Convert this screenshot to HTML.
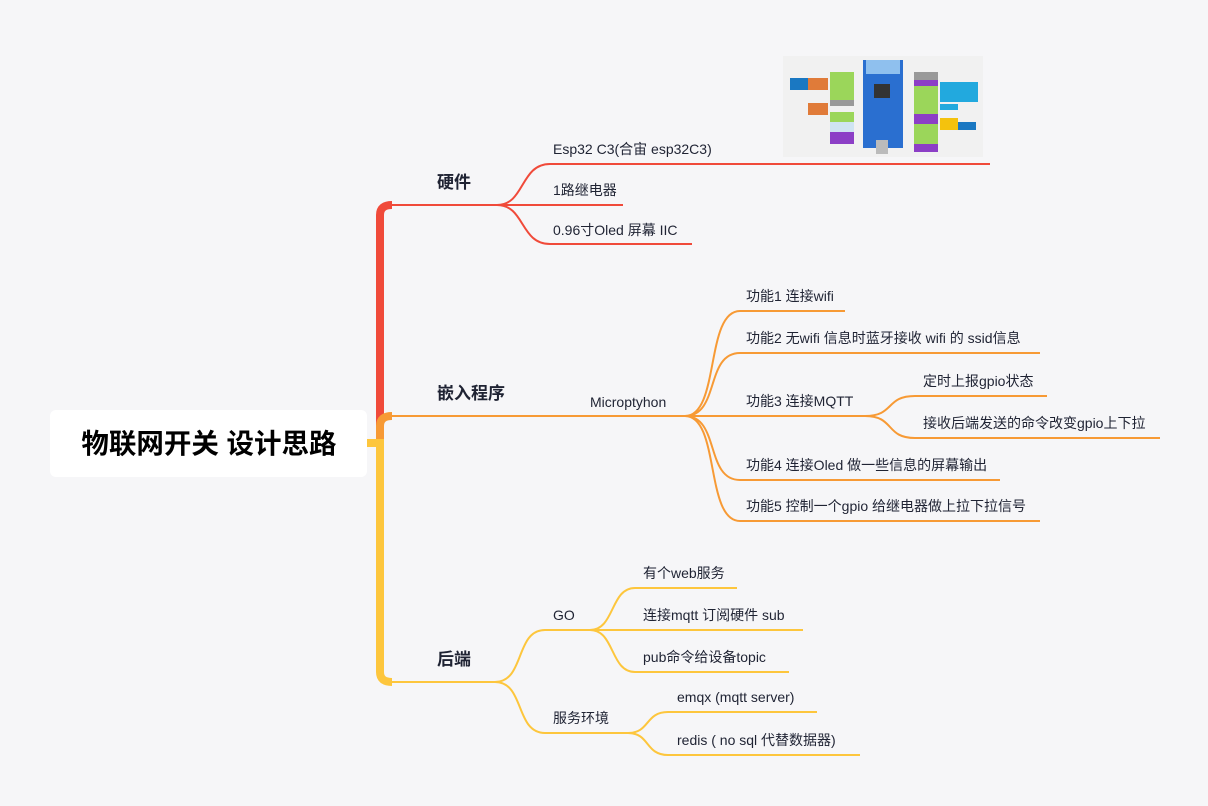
<!DOCTYPE html>
<html><head><meta charset="utf-8"><style>
body{margin:0;background:#f6f6f8;}
svg{display:block}
text{font-family:"Liberation Sans","Noto Sans CJK SC",sans-serif;fill:#1f2333;font-size:14px}
.l1{font-size:17px;font-weight:bold}
</style></head><body>
<svg width="1208" height="806" viewBox="0 0 1208 806">
<rect x="50" y="410" width="317" height="67" rx="6" fill="#fff"/>
<text x="209" y="453" text-anchor="middle" style="font-size:27.5px;font-weight:bold;fill:#000">物联网开关 设计思路</text>
<rect x="367" y="439" width="14" height="8" fill="#fdc63d"/>
<path d="M380 443 V215 Q380 205 392 205" stroke="#f04a3a" stroke-width="8" fill="none"/>
<path d="M380 443 V426 Q380 416 392 416" stroke="#f79a35" stroke-width="8" fill="none"/>
<path d="M380 439 V672 Q380 682 392 682" stroke="#fdc63d" stroke-width="8" fill="none"/>
<g fill="none" stroke-width="2">
<g stroke="#f04a3a">
<path d="M384 205 H497"/>
<path d="M497 205 C525 205 520 164 550 164 H990"/>
<path d="M497 205 H623"/>
<path d="M497 205 C525 205 520 244 550 244 H692"/>
</g>
<g stroke="#f79a35">
<path d="M384 416 H685"/>
<path d="M685 416 C720 416 705 311 740 311 H845"/>
<path d="M685 416 C720 416 705 353 740 353 H1040"/>
<path d="M685 416 H865"/>
<path d="M685 416 C720 416 705 480 740 480 H1000"/>
<path d="M685 416 C720 416 705 521 740 521 H1040"/>
<path d="M865 416 C895 416 885 396 915 396 H1047"/>
<path d="M865 416 C895 416 885 438 915 438 H1160"/>
</g>
<g stroke="#fdc63d">
<path d="M384 682 H495"/>
<path d="M495 682 C525 682 515 630 545 630 H590"/>
<path d="M495 682 C525 682 515 733 545 733 H628"/>
<path d="M590 630 C615 630 610 588 635 588 H737"/>
<path d="M590 630 H803"/>
<path d="M590 630 C615 630 610 672 635 672 H789"/>
<path d="M628 733 C650 733 645 712 668 712 H817"/>
<path d="M628 733 C650 733 645 755 668 755 H860"/>
</g>
</g>
<text class="l1" x="437" y="188">硬件</text>
<text class="l1" x="437" y="399">嵌入程序</text>
<text class="l1" x="437" y="665">后端</text>
<text x="553" y="154">Esp32 C3(合宙 esp32C3)</text>
<text x="553" y="195">1路继电器</text>
<text x="553" y="235">0.96寸Oled 屏幕 IIC</text>
<text x="590" y="407">Microptyhon</text>
<text x="746" y="301">功能1 连接wifi</text>
<text x="746" y="343">功能2 无wifi 信息时蓝牙接收 wifi 的 ssid信息</text>
<text x="746" y="406">功能3 连接MQTT</text>
<text x="923" y="386">定时上报gpio状态</text>
<text x="923" y="428">接收后端发送的命令改变gpio上下拉</text>
<text x="746" y="470">功能4 连接Oled 做一些信息的屏幕输出</text>
<text x="746" y="511">功能5 控制一个gpio 给继电器做上拉下拉信号</text>
<text x="553" y="620">GO</text>
<text x="553" y="723">服务环境</text>
<text x="643" y="578">有个web服务</text>
<text x="643" y="620">连接mqtt 订阅硬件 sub</text>
<text x="643" y="662">pub命令给设备topic</text>
<text x="677" y="702">emqx (mqtt server)</text>
<text x="677" y="745">redis ( no sql 代替数据器)</text>
<rect x="783" y="56" width="200" height="101" fill="#f1f1f1"/>
<rect x="863" y="60" width="40" height="88" fill="#2a6fd0"/>
<rect x="866" y="60" width="34" height="14" fill="#8fc0ee"/>
<rect x="874" y="84" width="16" height="14" fill="#333"/>
<rect x="876" y="140" width="12" height="14" fill="#bbb"/>
<g>
<rect x="790" y="78" width="18" height="12" fill="#1a78c2"/>
<rect x="808" y="78" width="20" height="12" fill="#e07b39"/>
<rect x="830" y="72" width="24" height="32" fill="#9bd65a"/>
<rect x="830" y="100" width="24" height="6" fill="#999"/>
<rect x="808" y="103" width="20" height="12" fill="#e07b39"/>
<rect x="830" y="112" width="24" height="10" fill="#9bd65a"/>
<rect x="830" y="122" width="24" height="10" fill="#cfe4f2"/>
<rect x="830" y="132" width="24" height="12" fill="#8c3fc6"/>
<rect x="914" y="72" width="24" height="8" fill="#999"/>
<rect x="914" y="80" width="24" height="6" fill="#8c3fc6"/>
<rect x="914" y="86" width="24" height="28" fill="#9bd65a"/>
<rect x="940" y="82" width="38" height="20" fill="#22a9de"/>
<rect x="940" y="104" width="18" height="6" fill="#22a9de"/>
<rect x="914" y="114" width="24" height="10" fill="#8c3fc6"/>
<rect x="914" y="124" width="24" height="20" fill="#9bd65a"/>
<rect x="940" y="118" width="18" height="12" fill="#f4c20d"/>
<rect x="958" y="122" width="18" height="8" fill="#1a78c2"/>
<rect x="914" y="144" width="24" height="8" fill="#8c3fc6"/>
</g>
</svg>
</body></html>
